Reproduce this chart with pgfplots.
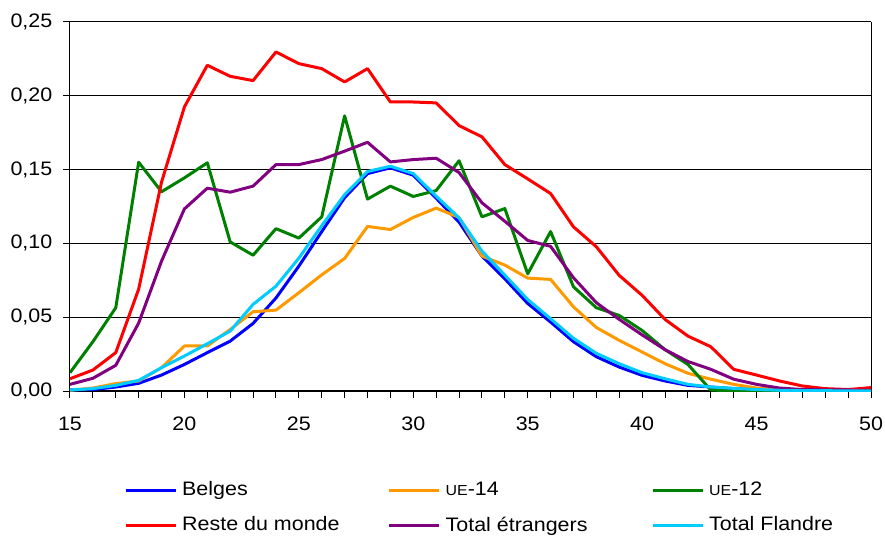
\documentclass[border=0pt]{standalone}
\usepackage{fontspec}
\setmainfont{Liberation Sans}[FakeStretch=1.1]
\usepackage{pgfplots}
\usepackage{pgfplotstable}
\pgfplotsset{compat=1.18}
\definecolor{cBel}{RGB}{0,0,255}
\definecolor{cUE14}{RGB}{255,153,0}
\definecolor{cUE12}{RGB}{0,128,0}
\definecolor{cRest}{RGB}{255,0,0}
\definecolor{cTotE}{RGB}{128,0,128}
\definecolor{cTotF}{RGB}{0,204,255}
\pgfplotstableread{
age  bel     ue14    ue12    rest    tote    totf
15   0.0007  0.0005  0.0124  0.0083  0.0045  0.0007
16   0.0010  0.0020  0.0334  0.0142  0.0086  0.0016
17   0.0027  0.0050  0.0564  0.0260  0.0174  0.0038
18   0.0052  0.0068  0.1550  0.0690  0.0460  0.0072
19   0.0108  0.0158  0.1350  0.1415  0.0880  0.0158
20   0.0180  0.0305  0.1444  0.1925  0.1234  0.0237
21   0.0260  0.0305  0.1546  0.2207  0.1374  0.0320
22   0.0338  0.0417  0.1010  0.2132  0.1347  0.0406
23   0.0458  0.0537  0.0920  0.2103  0.1388  0.0587
24   0.0630  0.0548  0.1100  0.2297  0.1534  0.0710
25   0.0846  0.0666  0.1036  0.2218  0.1534  0.0900
26   0.1080  0.0787  0.1180  0.2184  0.1568  0.1120
27   0.1310  0.0898  0.1864  0.2094  0.1625  0.1330
28   0.1473  0.1115  0.1300  0.2184  0.1685  0.1487
29   0.1512  0.1094  0.1388  0.1958  0.1552  0.1523
30   0.1462  0.1176  0.1318  0.1958  0.1568  0.1473
31   0.1306  0.1239  0.1358  0.1952  0.1577  0.1320
32   0.1144  0.1176  0.1560  0.1798  0.1480  0.1173
33   0.0914  0.0914  0.1180  0.1722  0.1275  0.0948
34   0.0760  0.0853  0.1236  0.1534  0.1150  0.0785
35   0.0593  0.0765  0.0794  0.1437  0.1020  0.0620
36   0.0467  0.0756  0.1080  0.1338  0.0980  0.0490
37   0.0334  0.0570  0.0706  0.1112  0.0767  0.0357
38   0.0232  0.0430  0.0564  0.0977  0.0598  0.0255
39   0.0162  0.0343  0.0512  0.0783  0.0485  0.0185
40   0.0106  0.0264  0.0410  0.0648  0.0380  0.0124
41   0.0068  0.0185  0.0280  0.0485  0.0280  0.0083
42   0.0038  0.0120  0.0180  0.0372  0.0200  0.0045
43   0.0027  0.0080  0.0007  0.0300  0.0147  0.0027
44   0.0016  0.0045  0.0000  0.0147  0.0080  0.0018
45   0.0010  0.0020  0.0000  0.0108  0.0045  0.0010
46   0.0007  0.0010  0.0000  0.0068  0.0020  0.0005
47   0.0005  0.0005  0.0000  0.0034  0.0010  0.0003
48   0.0003  0.0003  0.0000  0.0016  0.0008  0.0002
49   0.0002  0.0002  0.0000  0.0010  0.0007  0.0001
50   0.0001  0.0001  0.0000  0.0023  0.0005  0.0001
}\datatable
\newcommand{\ue}{{\fontsize{14.5bp}{14.5bp}\selectfont UE}}
\newcommand{\lent}[1]{\makebox[210.5bp][l]{\hspace{5bp}#1}}
\begin{document}
\fontsize{19.5bp}{23bp}\selectfont
\begin{tikzpicture}
\useasboundingbox (-70bp,-145bp) rectangle (815bp,391bp);
\begin{axis}[
  at={(0,0)}, anchor=south west,
  scale only axis, width=801bp, height=369bp,
  xmin=15, xmax=50, ymin=0, ymax=0.25,
  xtick={15,20,...,50}, minor x tick num=4,
  ytick={0,0.05,0.10,0.15,0.20,0.25},
  axis x line*=bottom, axis y line*=left,
  x axis line style={line width=2bp},
  y axis line style={line width=1bp},
  tick align=outside,
  major tick length=7bp, minor tick length=7bp,
  tick style={black, line width=1bp},
  ymajorgrids, grid style={black, line width=1bp},
  extra x ticks={50}, extra x tick labels={},
  extra x tick style={grid=major, major tick length=0bp},
  /pgf/number format/assume math mode=true,
  yticklabel style={xshift=-4bp, /pgf/number format/.cd, fixed, fixed zerofill, precision=2, use comma},
  xticklabel style={yshift=-12bp},
  every axis plot/.append style={line width=3bp, line join=round},
  legend columns=3,
  legend style={at={(axis description cs:0.0674,-0.245)}, anchor=north west,
    draw=none, fill=none, inner sep=0pt, row sep=18bp,
    nodes={inner sep=0pt}},
  legend cell align=left,
  legend image code/.code={\draw[#1] (0bp,0bp) -- (50bp,0bp);},
]
\addplot[cBel] table[x=age,y=bel] {\datatable};
\addlegendentry{\lent{Belges}}
\addplot[cUE14] table[x=age,y=ue14] {\datatable};
\addlegendentry{\lent{\ue-14}}
\addplot[cUE12] table[x=age,y=ue12] {\datatable};
\addlegendentry{\lent{\ue-12}}
\addplot[cRest] table[x=age,y=rest] {\datatable};
\addlegendentry{\lent{Reste du monde}}
\addplot[cTotE] table[x=age,y=tote] {\datatable};
\addlegendentry{\lent{Total étrangers}}
\addplot[cTotF] table[x=age,y=totf] {\datatable};
\addlegendentry{\lent{Total Flandre}}
\end{axis}
\end{tikzpicture}
\end{document}
